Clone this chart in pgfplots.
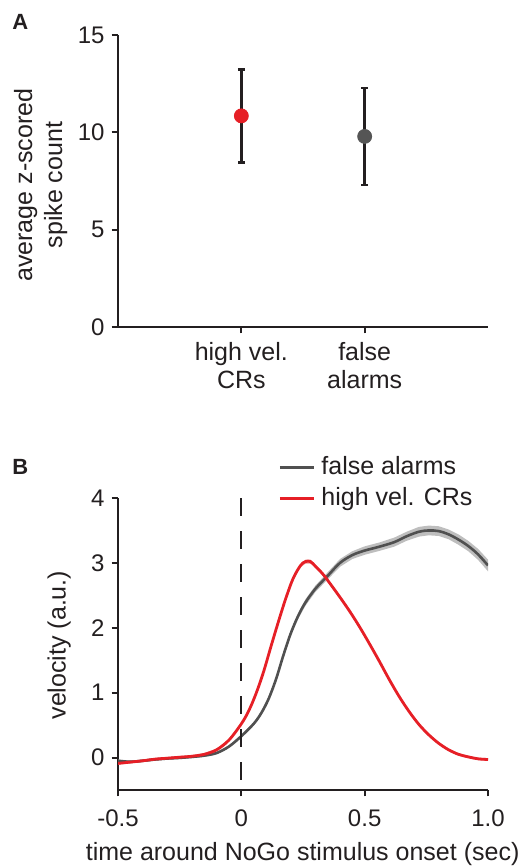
\documentclass[border=0pt]{standalone}
\usepackage{fontspec}
\setmainfont{Liberation Sans}
\usepackage{pgfplots}
\usepackage{pgfplotstable}
\pgfplotsset{compat=1.18}
\usepgfplotslibrary{fillbetween}
\definecolor{redc}{RGB}{230,31,38}
\definecolor{grayc}{RGB}{80,80,80}
\definecolor{dotgray}{RGB}{85,85,85}
\definecolor{bandgray}{RGB}{190,190,190}
\definecolor{bandred}{RGB}{240,150,150}
\definecolor{axc}{RGB}{35,31,32}

\pgfplotstableread{
x y e
-0.50 -0.09 0.02
-0.45 -0.07 0.02
-0.40 -0.05 0.02
-0.35 -0.025 0.02
-0.30 -0.01 0.02
-0.25 0.005 0.02
-0.20 0.02 0.02
-0.15 0.05 0.02
-0.10 0.12 0.02
-0.05 0.27 0.02
0.00 0.52 0.02
0.03 0.72 0.02
0.06 0.99 0.02
0.09 1.32 0.02
0.12 1.71 0.02
0.15 2.09 0.02
0.18 2.45 0.025
0.21 2.76 0.025
0.24 2.96 0.03
0.26 3.02 0.03
0.28 3.02 0.03
0.30 2.95 0.025
0.33 2.83 0.025
0.36 2.68 0.025
0.40 2.47 0.025
0.44 2.25 0.025
0.48 2.01 0.025
0.52 1.75 0.025
0.56 1.48 0.02
0.60 1.20 0.02
0.64 0.94 0.02
0.68 0.71 0.02
0.72 0.51 0.02
0.76 0.35 0.02
0.80 0.22 0.02
0.84 0.12 0.02
0.88 0.05 0.02
0.92 0.01 0.02
0.96 -0.02 0.02
1.00 -0.03 0.02
}\redtab

\pgfplotstableread{
x y e
-0.50 -0.05 0.02
-0.45 -0.065 0.02
-0.40 -0.05 0.02
-0.35 -0.03 0.02
-0.30 -0.015 0.02
-0.25 -0.005 0.02
-0.20 0.01 0.02
-0.15 0.03 0.02
-0.10 0.07 0.02
-0.05 0.17 0.02
0.00 0.33 0.025
0.05 0.52 0.025
0.08 0.68 0.03
0.11 0.90 0.03
0.14 1.20 0.035
0.17 1.57 0.035
0.20 1.91 0.04
0.23 2.18 0.045
0.26 2.39 0.05
0.30 2.60 0.05
0.35 2.80 0.055
0.40 3.00 0.06
0.45 3.12 0.06
0.50 3.19 0.065
0.56 3.25 0.065
0.62 3.32 0.07
0.67 3.41 0.07
0.72 3.48 0.075
0.76 3.50 0.075
0.80 3.49 0.075
0.84 3.44 0.075
0.88 3.36 0.08
0.92 3.26 0.08
0.96 3.13 0.085
1.00 2.96 0.09
}\graytab

\pgfplotsset{
  mystyle/.style={
    scale only axis, width=185pt, height=146pt,
    axis x line*=bottom, axis y line*=left,
    axis line style={line width=1pt, color=axc, -},
    tick style={line width=1pt, color=axc},
    tick align=outside, major tick length=3.2pt,
    minor tick num=0,
    tick label style={font=\fontsize{12}{14}\selectfont, color=axc},
    label style={font=\fontsize{12.5}{15}\selectfont, color=axc, inner sep=0pt},
    /pgf/number format/assume math mode=true,
  }
}

\begin{document}
\begin{tikzpicture}
\path (0,0) rectangle (262pt,433pt);

\node[anchor=north west, inner sep=0pt, font=\bfseries\fontsize{11}{13}\selectfont, color=axc] at (6pt,426pt) {A};
\node[anchor=north west, inner sep=0pt, font=\bfseries\fontsize{11}{13}\selectfont, color=axc] at (6pt,203.5pt) {B};

% Panel A
\begin{axis}[mystyle,
  at={(59pt,269.5pt)}, anchor=south west,
  xmin=0, xmax=3, ymin=0, ymax=15,
  xtick={1,2}, xticklabels={{high vel.\\CRs},{false\\alarms}},
  xticklabel style={align=center, font=\fontsize{12.5}{14}\selectfont, yshift=-1pt},
  ytick={0,5,10,15},
  ylabel={average z-scored\\spike count},
  ylabel style={at={(axis description cs:-0.209,0.486)}, anchor=center, align=center},
  clip=false,
]
\addplot[only marks, mark=*, mark size=3.5pt, color=redc,
  error bars/.cd, y dir=both, y explicit,
  error bar style={line width=1.2pt, color=axc},
  error mark options={rotate=90, mark size=1.7pt, line width=1.2pt, color=axc}]
  coordinates {(1,10.845) +- (0,2.385)};
\addplot[only marks, mark=*, mark size=3.5pt, color=dotgray,
  error bars/.cd, y dir=both, y explicit,
  error bar style={line width=1.2pt, color=axc},
  error mark options={rotate=90, mark size=1.7pt, line width=1.2pt, color=axc}]
  coordinates {(2,9.79) +- (0,2.5)};
\end{axis}

% Panel B
\begin{axis}[mystyle,
  at={(59pt,38pt)}, anchor=south west,
  xmin=-0.5, xmax=1, ymin=-0.5, ymax=4,
  xtick={-0.5,0,0.5,1}, xticklabels={-0.5,0,0.5,1.0},
  xticklabel style={yshift=-3pt},
  ytick={0,1,2,3,4},
  xlabel={time around NoGo stimulus onset (sec)},
  xlabel style={at={(axis description cs:0.499,-0.242)}, anchor=base},
  ylabel={velocity (a.u.)},
  ylabel style={at={(axis description cs:-0.159,0.496)}, anchor=center},
  legend style={at={(axis description cs:0.4165,1.17)}, anchor=north west,
    draw=none, fill=none, row sep=1pt, column sep=1pt,
    font=\fontsize{12.5}{15}\selectfont, text=axc,
    legend cell align=left},
]
\addplot[name path=gu, draw=none, forget plot] table[x=x, y expr=\thisrow{y}+\thisrow{e}] {\graytab};
\addplot[name path=gl, draw=none, forget plot] table[x=x, y expr=\thisrow{y}-\thisrow{e}] {\graytab};
\addplot[bandgray, forget plot] fill between[of=gu and gl];
\addplot[name path=ru, draw=none, forget plot] table[x=x, y expr=\thisrow{y}+\thisrow{e}] {\redtab};
\addplot[name path=rl, draw=none, forget plot] table[x=x, y expr=\thisrow{y}-\thisrow{e}] {\redtab};
\addplot[bandred, forget plot] fill between[of=ru and rl];
\addplot[color=grayc, line width=1.3pt, smooth, tension=0.55] table[x=x, y=y] {\graytab};
\addlegendentry{false alarms}
\addplot[color=redc, line width=1.4pt, smooth, tension=0.55] table[x=x, y=y] {\redtab};
\addlegendentry{high vel. CRs}
\addplot[color=axc, line width=1pt, dash pattern=on 9pt off 7.5pt, forget plot] coordinates {(0,4) (0,-0.5)};
\end{axis}
\end{tikzpicture}
\end{document}
